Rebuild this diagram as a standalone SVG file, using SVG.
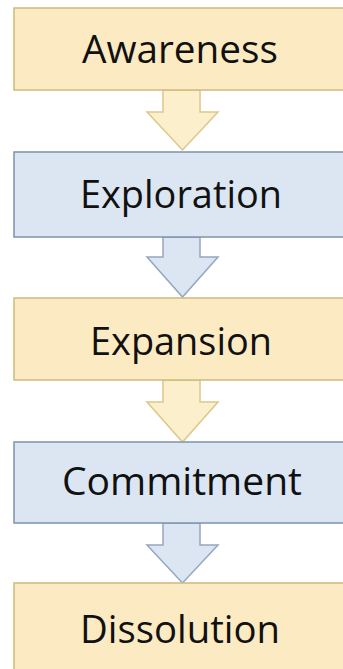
<svg xmlns="http://www.w3.org/2000/svg" width="343" height="669" viewBox="0 0 343 669">
<style>
.y{fill:#FCEBC2;stroke:#CDBB7E;stroke-width:1.5}
.b{fill:#DCE6F2;stroke:#7E93AD;stroke-width:1.5}
.ya{fill:#FCEFCB;stroke:#DCC78C;stroke-width:1.5}
.ba{fill:#DCE6F2;stroke:#93A7C1;stroke-width:1.5}
text{font-family:"Open Sans","Noto Sans",sans-serif;font-size:39px;fill:#111;text-anchor:middle}
</style>
<rect width="343" height="669" fill="#fff"/>
<g id="connectors">
<polygon class="ya" points="163,90 200,90 200,112 218,112 182.5,150 147,112 163,112"/>
<polygon class="ba" points="163,237 200,237 200,257 218,257 182.5,297 147,257 163,257"/>
<polygon class="ya" points="163,380 200,380 200,402 218,402 182.5,442 147,402 163,402"/>
<polygon class="ba" points="163,523 200,523 200,545 218,545 182.5,583 147,545 163,545"/>
</g>
<g id="awareness"><rect class="y" x="14" y="8" width="340" height="82"/><text x="180" y="63" textLength="196" lengthAdjust="spacingAndGlyphs">Awareness</text></g>
<g id="exploration"><rect class="b" x="14" y="152" width="340" height="85"/><text x="181" y="208" textLength="202" lengthAdjust="spacingAndGlyphs">Exploration</text></g>
<g id="expansion"><rect class="y" x="14" y="298" width="340" height="82"/><text x="181" y="355" textLength="182" lengthAdjust="spacingAndGlyphs">Expansion</text></g>
<g id="commitment"><rect class="b" x="14" y="442" width="340" height="81"/><text x="182" y="495" textLength="240" lengthAdjust="spacingAndGlyphs">Commitment</text></g>
<g id="dissolution"><rect class="y" x="14" y="583" width="340" height="100"/><text x="180" y="643" textLength="200" lengthAdjust="spacingAndGlyphs">Dissolution</text></g>
</svg>
